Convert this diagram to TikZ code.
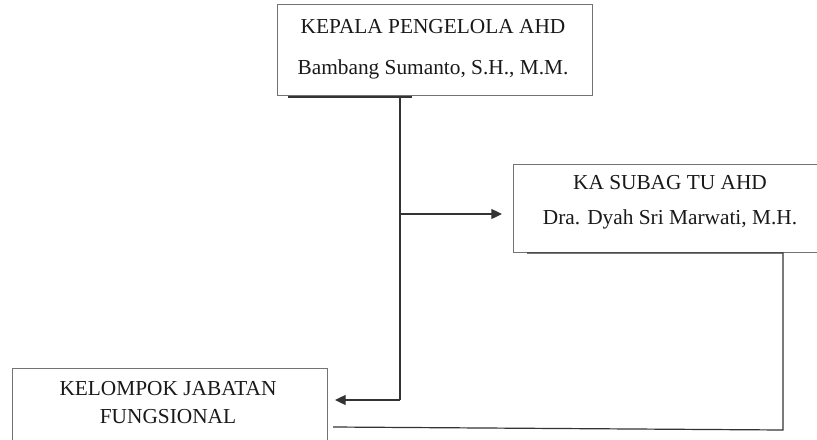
\documentclass[tikz,border=0pt]{standalone}
\usepackage{fontspec}
\setmainfont{Liberation Serif}
\usetikzlibrary{arrows.meta}
\begin{document}
\begin{tikzpicture}[x=0.75pt,y=-0.75pt,
  boxst/.style={draw=black!55,line width=0.9pt,fill=none,inner sep=0pt,anchor=north west},
  txt/.style={font=\fontsize{16}{19}\selectfont,anchor=base,inner sep=0pt,text=black!90},
  conn/.style={draw=black!80,line width=0.9pt},
  arr/.style={conn,-{Triangle[length=8pt,width=7.5pt]}}]
\useasboundingbox (0,0) rectangle (817,439);
\clip (0,0) rectangle (817,439);
% boxes
\node[boxst,minimum width=315*0.75pt,minimum height=91*0.75pt] (box1) at (277,4) {};
\node[boxst,minimum width=314*0.75pt,minimum height=88*0.75pt] (box2) at (513,164) {};
\node[boxst,minimum width=315*0.75pt,minimum height=100*0.75pt] (box3) at (12,368) {};
% texts
\node[txt] (t1a) at (433,33) {KEPALA PENGELOLA AHD};
\node[txt] (t1b) at (433,74) {Bambang Sumanto, S.H., M.M.};
\node[txt] (t2a) at (670,189) {KA SUBAG TU AHD};
\node[txt] (t2b) at (670,224) {Dra. Dyah Sri Marwati, M.H.};
\node[txt] (t3a) at (168,395) {KELOMPOK JABATAN};
\node[txt] (t3b) at (168,423) {FUNGSIONAL};
% connector points
\coordinate (u1l) at (288,97);
\coordinate (u1r) at (412,97);
\coordinate (j1) at (400,97);
\coordinate (j2) at (400,214);
\coordinate (j3) at (400,400);
\coordinate (a2) at (502,214);
\coordinate (a3) at (335,400);
\coordinate (u2l) at (527,253);
\coordinate (u2r) at (783,253);
\coordinate (c2) at (783,430);
\coordinate (e3) at (333,427);
% connectors
\draw[conn] (u1l) -- (u1r);
\draw[conn] (j1) -- (j3);
\draw[arr] (j2) -- (a2);
\draw[arr] (j3) -- (a3);
\draw[conn] (u2l) -- (u2r) -- (c2) -- (e3);
\end{tikzpicture}
\end{document}
